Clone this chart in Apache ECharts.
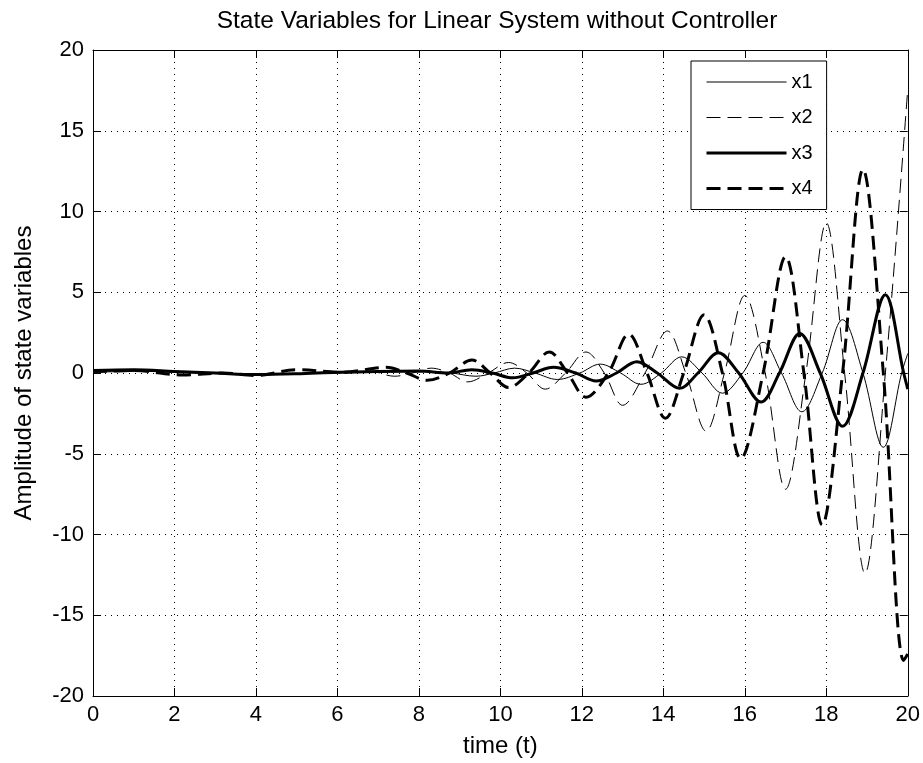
<!DOCTYPE html>
<html>
<head>
<meta charset="utf-8">
<script src="https://cdn.jsdelivr.net/npm/echarts@6/dist/echarts.min.js"></script>
<style>
html,body{margin:0;padding:0;background:#fff;}
#chart{width:923px;height:763px;}
</style>
</head>
<body>
<div id="chart"></div>
<script>
// ---- data: [time, amplitude] ----
const seriesNames = ['x1', 'x2', 'x3', 'x4'];
const xTicks = [0, 2, 4, 6, 8, 10, 12, 14, 16, 18, 20];
const yTicks = [-20, -15, -10, -5, 0, 5, 10, 15, 20];

const x1Data = [
  [0, 0.05], [1.2, 0.1], [2.5, 0.0], [4.0, -0.08], [5.5, -0.02], [7.0, 0.05], [8.2, 0.1],
  [8.8, 0.0], [9.4, -0.2], [9.85, 0], [10.35, 0.3], [10.85, 0], [11.4, -0.4], [11.95, 0],
  [12.45, 0.55], [12.95, 0], [13.45, -0.7], [13.95, 0], [14.45, 1.0], [14.95, 0],
  [15.45, -1.25], [15.95, 0], [16.45, 1.9], [16.9, 0], [17.4, -2.4], [17.9, 0],
  [18.4, 3.3], [18.9, 0], [19.4, -4.6], [19.85, 0], [20, 1.2]
];
const x2Data = [
  [0, 0.05], [1.5, 0.1], [3.0, 0.0], [4.5, -0.1], [6.0, 0.05], [6.8, 0.1], [7.4, -0.2],
  [7.85, 0], [8.3, 0.3], [8.75, 0], [9.2, -0.55], [9.7, 0], [10.2, 0.65], [10.65, 0],
  [11.1, -1.0], [11.6, 0], [12.1, 1.3], [12.55, 0], [13.0, -2.0], [13.55, 0],
  [14.1, 2.6], [14.55, 0], [15.05, -3.6], [15.5, 0], [16.0, 4.8], [16.5, 0],
  [17.0, -7.2], [17.5, 0], [18.0, 9.3], [18.45, 0], [18.95, -12.4], [19.45, 0], [20, 17.6]
];
const x3Data = [
  [0, 0.15], [1.0, 0.2], [2.0, 0.1], [3.0, 0.0], [4.0, -0.1], [5.0, -0.05], [6.0, 0.05],
  [7.0, 0.1], [8.0, 0.12], [8.7, 0.0], [9.3, 0.2], [9.8, 0], [10.3, -0.3], [10.8, 0],
  [11.3, 0.35], [11.85, 0], [12.35, -0.5], [12.85, 0], [13.35, 0.7], [13.85, 0],
  [14.4, -0.95], [14.85, 0], [15.35, 1.25], [15.85, 0], [16.4, -1.8], [16.85, 0],
  [17.35, 2.45], [17.85, 0], [18.4, -3.3], [18.9, 0], [19.45, 4.85], [19.9, 0], [20, -1.0]
];
const x4Data = [
  [0, 0.1], [1.0, 0.15], [2.2, -0.12], [3.2, 0.0], [4.0, -0.15], [5.0, 0.2], [6.1, 0.05],
  [7.2, 0.35], [7.7, 0], [8.2, -0.45], [8.75, 0], [9.3, 0.8], [9.75, 0], [10.2, -0.9],
  [10.7, 0], [11.2, 1.3], [11.65, 0], [12.1, -1.5], [12.65, 0], [13.15, 2.4], [13.6, 0],
  [14.05, -2.8], [14.5, 0], [15.0, 3.6], [15.45, 0], [15.9, -5.3], [16.45, 0],
  [17.0, 7.2], [17.45, 0], [17.9, -9.4], [18.4, 0], [18.9, 12.6], [19.4, 0],
  [19.9, -17.8], [20, -17.4]
];
const allData = [x1Data, x2Data, x3Data, x4Data];

const lineWidths = [1, 1, 3, 3];
const lineTypes = ['solid', [14, 7], 'solid', [14, 7]];

const tickFont = "'Liberation Sans', Arial, sans-serif";
const textFont = "'Liberation Sans', Arial, sans-serif";

const chart = echarts.init(document.getElementById('chart'), null, {renderer: 'canvas'});

const axisCommon = {
  type: 'value',
  axisLine: {show: true, onZero: false, lineStyle: {color: '#000', width: 1}},
  axisTick: {show: true, inside: true, length: 8, lineStyle: {color: '#000', width: 1}},
  minorTick: {show: false}
};

const option = {
  backgroundColor: '#fff',
  animation: false,
  title: {
    text: 'State Variables for Linear System without Controller',
    left: 497, top: 21, padding: 0,
    textAlign: 'center', textVerticalAlign: 'middle',
    textStyle: {fontFamily: textFont, fontSize: 24.5, fontWeight: 'normal', color: '#000'}
  },
  legend: {
    data: seriesNames.map((n, i) => ({
      name: n,
      lineStyle: {width: lineWidths[i], type: lineTypes[i], color: '#000'},
      itemStyle: {color: 'rgba(0,0,0,0)', borderColor: 'rgba(0,0,0,0)', borderWidth: 0, opacity: 0}
    })),
    orient: 'vertical',
    left: 691, top: 61,
    padding: [10, 14, 10, 14],
    itemWidth: 80, itemHeight: 14, itemGap: 13.5,
    backgroundColor: '#fff', borderColor: '#000', borderWidth: 1, borderRadius: 0,
    textStyle: {fontFamily: textFont, fontSize: 20, color: '#000', lineHeight: 22}
  },
  grid: {left: 93, top: 50, right: 14, bottom: 67, containLabel: false},
  xAxis: [
    Object.assign({}, axisCommon, {
      min: xTicks[0], max: xTicks[xTicks.length - 1], interval: xTicks[1] - xTicks[0],
      position: 'bottom',
      name: 'time (t)', nameLocation: 'middle', nameGap: 38,
      nameTextStyle: {fontFamily: textFont, fontSize: 24, color: '#000'},
      axisLabel: {show: true, color: '#000', fontFamily: tickFont, fontSize: 22, margin: 8},
      splitLine: {show: true, lineStyle: {color: '#000', width: 1, type: [1, 5]}}
    }),
    Object.assign({}, axisCommon, {
      min: xTicks[0], max: xTicks[xTicks.length - 1], interval: xTicks[1] - xTicks[0],
      position: 'top',
      axisLabel: {show: false}, splitLine: {show: false}
    })
  ],
  yAxis: [
    Object.assign({}, axisCommon, {
      min: yTicks[0], max: yTicks[yTicks.length - 1], interval: yTicks[1] - yTicks[0],
      position: 'left',
      name: 'Amplitude of state variables', nameLocation: 'middle', nameGap: 57,
      nameTextStyle: {fontFamily: textFont, fontSize: 24, color: '#000'},
      axisLabel: {show: true, color: '#000', fontFamily: tickFont, fontSize: 22, margin: 9},
      splitLine: {show: true, lineStyle: {color: '#000', width: 1, type: [1, 5]}}
    }),
    Object.assign({}, axisCommon, {
      min: yTicks[0], max: yTicks[yTicks.length - 1], interval: yTicks[1] - yTicks[0],
      position: 'right',
      axisLabel: {show: false}, splitLine: {show: false}
    })
  ],
  series: seriesNames.map((n, i) => ({
    name: n,
    type: 'line',
    xAxisIndex: 0, yAxisIndex: 0,
    data: allData[i],
    symbol: 'none',
    smooth: 0.35,
    clip: true,
    lineStyle: {color: '#000', width: lineWidths[i], type: lineTypes[i]},
    itemStyle: {color: '#000'},
    z: 3 + i
  }))
};

chart.setOption(option);
</script>
</body>
</html>
